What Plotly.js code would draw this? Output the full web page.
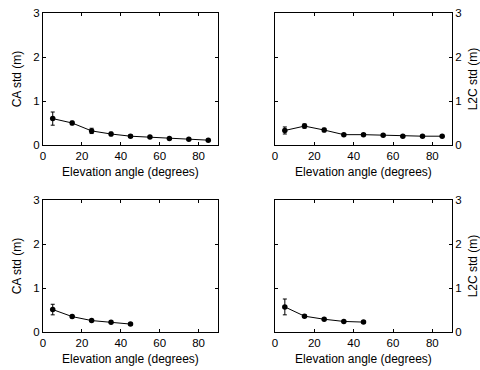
<!DOCTYPE html>
<html>
<head>
<meta charset="utf-8">
<script src="https://cdn.plot.ly/plotly-3.0.1.min.js"></script>
<style>html,body{margin:0;padding:0;background:#fff}#chart{width:480px;height:370px}</style>
</head>
<body>
<div id="chart"></div>
<script>
// Elevation angle bins (degrees)
const elevAll = [5, 15, 25, 35, 45, 55, 65, 75, 85];
const elevLow = [5, 15, 25, 35, 45];

// Panel 1 (top-left): CA std
const caTop = [0.60, 0.50, 0.32, 0.25, 0.20, 0.18, 0.15, 0.13, 0.11];
const caTopErr = [0.15, 0.04, 0.06, 0.04, 0.03, 0.02, 0.02, 0.02, 0.02];
// Panel 2 (top-right): L2C std
const l2cTop = [0.33, 0.43, 0.34, 0.235, 0.235, 0.22, 0.20, 0.20, 0.20];
const l2cTopErr = [0.08, 0.05, 0.04, 0.02, 0.02, 0.02, 0.02, 0.02, 0.02];
// Panel 3 (bottom-left): CA std
const caBot = [0.51, 0.35, 0.26, 0.22, 0.18];
const caBotErr = [0.12, 0.03, 0.02, 0.02, 0.02];
// Panel 4 (bottom-right): L2C std
const l2cBot = [0.57, 0.36, 0.29, 0.24, 0.225];
const l2cBotErr = [0.18, 0.03, 0.02, 0.02, 0.02];

const xTicks = [0, 20, 40, 60, 80];
const yTicks = [0, 1, 2, 3];
const xTitle = 'Elevation angle (degrees)';
const caTitle = 'CA std (m)';
const l2cTitle = 'L2C std (m)';

function tr(x, y, err, xa, ya) {
  return {
    x: x, y: y, xaxis: xa, yaxis: ya, type: 'scatter', mode: 'lines+markers',
    line: {color: '#000', width: 1},
    marker: {color: '#000', size: 5.5, symbol: 'circle'},
    error_y: {type: 'data', array: err, visible: true, color: '#000', thickness: 1, width: 2},
    showlegend: false, hoverinfo: 'skip'
  };
}

const data = [
  tr(elevAll, caTop, caTopErr, 'x', 'y'),
  tr(elevAll, l2cTop, l2cTopErr, 'x2', 'y2'),
  tr(elevLow, caBot, caBotErr, 'x3', 'y3'),
  tr(elevLow, l2cBot, l2cBotErr, 'x4', 'y4')
];

const tickFont = {family: 'Liberation Sans, Arial, Helvetica, sans-serif', size: 11.5, color: '#000'};
const titleFont = {family: 'Liberation Sans, Arial, Helvetica, sans-serif', size: 12, color: '#000'};

function xax(dom, anchor) {
  return {
    domain: dom, anchor: anchor, range: [0, 90], tickvals: xTicks, ticktext: xTicks.map(String),
    ticks: 'inside', ticklen: 3, tickcolor: '#000', mirror: 'allticks',
    showline: true, linecolor: '#000', linewidth: 1, showgrid: false, zeroline: false,
    automargin: false, tickfont: tickFont,
    title: {text: xTitle, font: titleFont, standoff: 6}
  };
}
function yax(dom, anchor, side, title) {
  return {
    domain: dom, anchor: anchor, side: side, range: [0, 3], tickvals: yTicks, ticktext: yTicks.map(String),
    ticks: 'inside', ticklen: 3, tickcolor: '#000', mirror: 'allticks',
    showline: true, linecolor: '#000', linewidth: 1, showgrid: false, zeroline: false,
    automargin: false, tickfont: tickFont,
    title: {text: title, font: titleFont, standoff: 9}
  };
}

const xL = [43/480, 218/480];
const xR = [275/480, 452/480];
const yT = [1 - 145/370, 1 - 13/370];
const yB = [1 - 332/370, 1 - 200/370];

const layout = {
  width: 480, height: 370,
  margin: {l: 0, r: 0, t: 0, b: 0},
  paper_bgcolor: '#fff', plot_bgcolor: '#fff',
  font: tickFont,
  showlegend: false,
  xaxis: xax(xL, 'y'),
  yaxis: yax(yT, 'x', 'left', caTitle),
  xaxis2: xax(xR, 'y2'),
  yaxis2: yax(yT, 'x2', 'right', l2cTitle),
  xaxis3: xax(xL, 'y3'),
  yaxis3: yax(yB, 'x3', 'left', caTitle),
  xaxis4: xax(xR, 'y4'),
  yaxis4: yax(yB, 'x4', 'right', l2cTitle)
};

Plotly.newPlot('chart', data, layout, {displayModeBar: false, staticPlot: true});
</script>
</body>
</html>
